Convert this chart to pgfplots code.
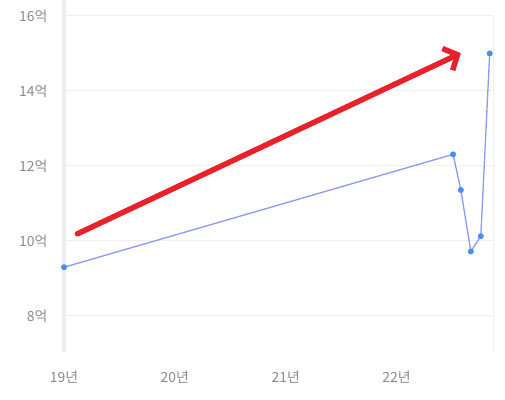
\documentclass[border=0pt]{standalone}
\usepackage{pgfplots}
\pgfplotsset{compat=1.18}
\usepackage{fontspec}
\setmainfont{Noto Sans CJK KR}
\usetikzlibrary{arrows.meta}
\definecolor{lbl}{HTML}{8A8A8A}
\definecolor{gridc}{HTML}{F0F0F0}
\definecolor{axc}{HTML}{EEEEEE}
\definecolor{linec}{HTML}{8C98FA}
\definecolor{markc}{HTML}{4A8EF2}
\definecolor{arrowc}{HTML}{E8212A}
\begin{document}
\begin{tikzpicture}
\path[use as bounding box] (0,0) rectangle (505bp,400bp);
\begin{axis}[
  at={(64bp,48bp)}, anchor=south west,
  scale only axis, width=429bp, height=336bp,
  xmin=19, xmax=22.87, ymin=7.04, ymax=16,
  axis line style={draw=none},
  xtick={19,20,21,22}, xticklabels={19년,20년,21년,22년},
  ytick={8,10,12,14,16}, yticklabels={8억,10억,12억,14억,16억},
  ymajorgrids, grid style={gridc, line width=1bp},
  major tick length=0pt,
  tick label style={font=\fontsize{14}{16}\selectfont, text=lbl},
  xticklabel style={yshift=-15bp},
  yticklabel style={xshift=-13bp},
  clip=false,
]
\draw[axc, line width=3bp] (rel axis cs:0,0) -- (rel axis cs:0,1.05);
\draw[gridc, line width=1bp] (rel axis cs:1,0) -- (rel axis cs:1,1);
\addplot[linec, line width=1.3bp, mark=*, mark size=2.3bp, mark options={fill=markc, draw=markc}]
coordinates {(19.0,9.30) (22.51,12.31) (22.58,11.36) (22.67,9.72) (22.76,10.13) (22.84,15.0)};
\draw[arrowc, line width=5.5bp, line cap=round, -{Straight Barb[length=11bp,width=24bp,line width=5.5bp]}]
 (axis cs:19.12,10.19) -- (axis cs:22.58,15.01);
\end{axis}
\end{tikzpicture}
\end{document}
